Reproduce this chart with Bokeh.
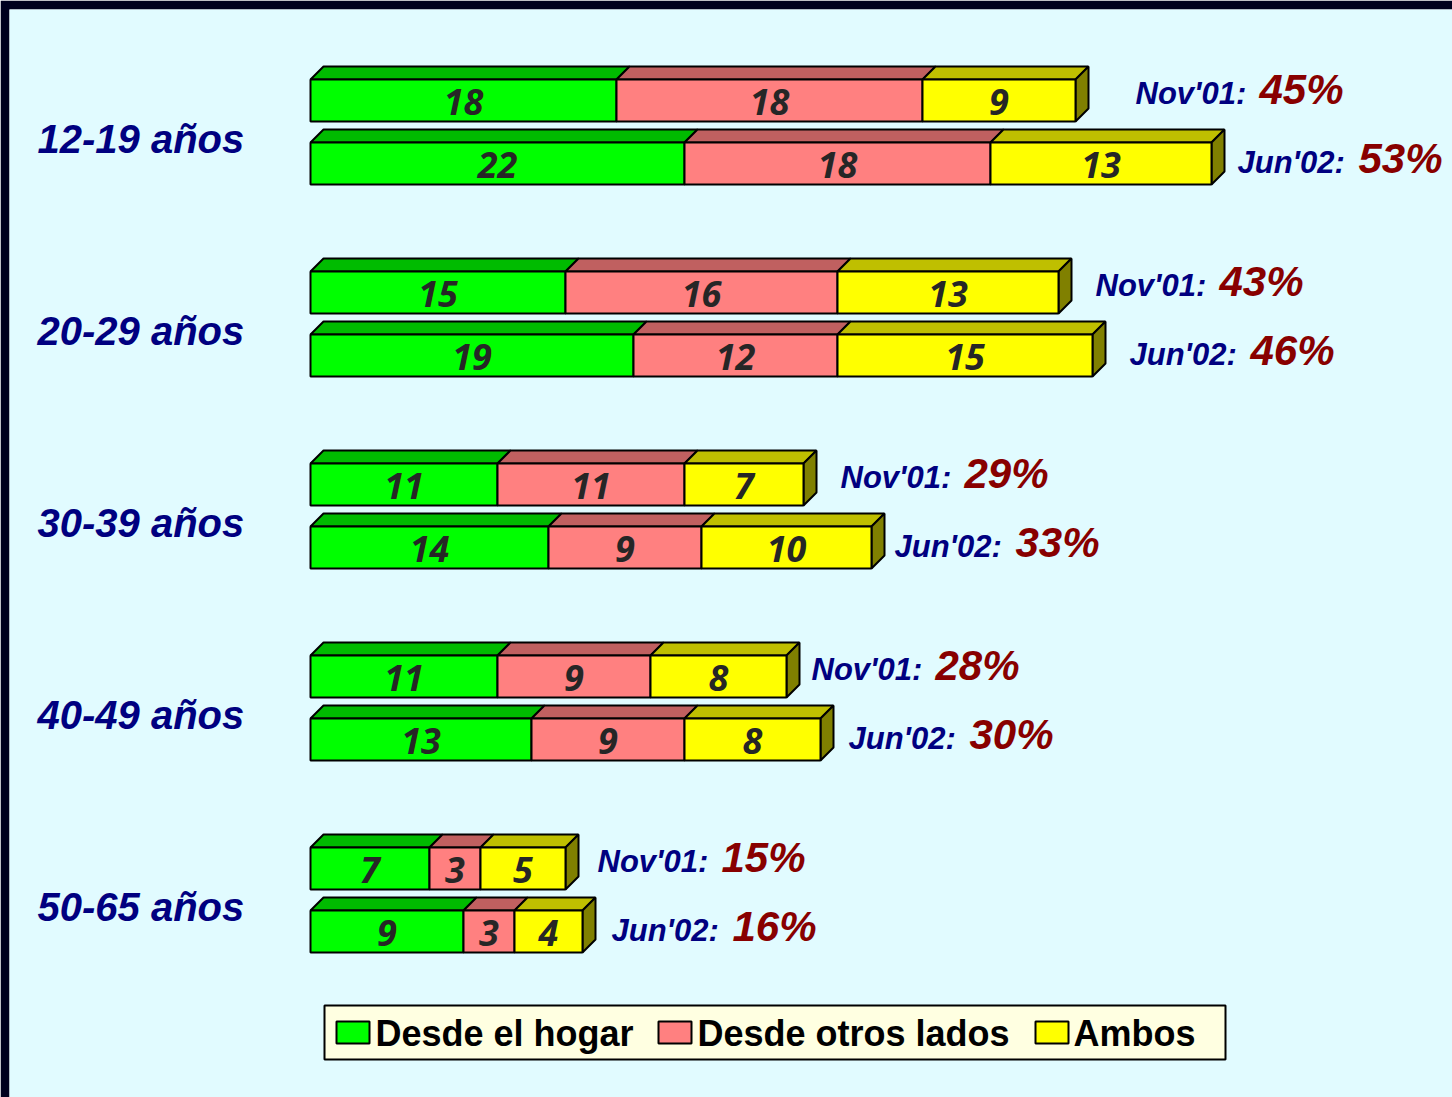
from bokeh.plotting import figure
from bokeh.models import Range1d, ColumnDataSource
from bokeh.embed import file_html
from bokeh.resources import INLINE
from bokeh.core.properties import value

# ---------------- data ----------------
groups = ["12-19 años", "20-29 años", "30-39 años", "40-49 años", "50-65 años"]
periods = ["Nov'01:", "Jun'02:"]
series = ["Desde el hogar", "Desde otros lados", "Ambos"]

hogar_nov = [18, 15, 11, 11, 7]
otros_nov = [18, 16, 11, 9, 3]
ambos_nov = [9, 13, 7, 8, 5]
total_nov = ["45%", "43%", "29%", "28%", "15%"]

hogar_jun = [22, 19, 14, 13, 9]
otros_jun = [18, 12, 9, 9, 3]
ambos_jun = [13, 15, 10, 8, 4]
total_jun = ["53%", "46%", "33%", "30%", "16%"]

# ---------------- layout / style ----------------
W, H = 1452, 1097
EDGE = 9           # dark frame at top/left
X0 = 310           # page x of 0 %
PX = 17.0          # pixels per percentage point
DEP = 13           # 3-D depth in px
D = DEP / PX
BAR_H = 42
GROUP_STEP = 192
FIRST_Y = 100
PAIR_STEP = 63

FRONT = ["#00FF00", "#FF8080", "#FFFF00"]
TOP = ["#00BB00", "#C06060", "#BFBF00"]
SIDE = "#808000"
NAVY = "#000080"
DRED = "#880000"
BG = "#E1FBFF"
DARK = "#00001E"

gap_nov = [47, 24, 24, 12, 19]
gap_jun = [13, 24, 10, 15, 16]
pct_off = [124, 121]
FONT = value("Liberation Sans")
VFONT = value("Noto Sans")


def xd(page_x):
    return (page_x - X0) / PX


p = figure(width=W, height=H, output_backend="svg", toolbar_location=None,
           x_range=Range1d(xd(EDGE), xd(W)),
           y_range=Range1d(H, EDGE),
           x_axis_location=None, y_axis_location=None,
           min_border=0, min_border_left=EDGE, min_border_right=0,
           min_border_top=EDGE, min_border_bottom=0)
p.grid.visible = False
p.outline_line_color = None
p.background_fill_color = BG
p.border_fill_color = DARK

data_sets = [
    (hogar_nov, otros_nov, ambos_nov, total_nov, gap_nov),
    (hogar_jun, otros_jun, ambos_jun, total_jun, gap_jun),
]

top_xs, top_ys, top_c = [], [], []
side_xs, side_ys = [], []
fronts = [dict(l=[], r=[], t=[], b=[]) for _ in range(3)]
val_x, val_y, val_t = [], [], []
per_x, per_y, per_t = [], [], []
pct_x, pct_y, pct_t, pct_o = [], [], [], []

for si, (h, o, a, tot, gaps) in enumerate(data_sets):
    for g in range(len(groups)):
        yc = FIRST_Y + GROUP_STEP * g + PAIR_STEP * si
        top = yc - BAR_H / 2
        bot = yc + BAR_H / 2
        cum = 0
        for k, v in enumerate([h[g], o[g], a[g]]):
            l, r = cum, cum + v
            cum = r
            fronts[k]["l"].append(l)
            fronts[k]["r"].append(r)
            fronts[k]["t"].append(top)
            fronts[k]["b"].append(bot)
            top_xs.append([l, r, r + D, l + D])
            top_ys.append([top, top, top - DEP, top - DEP])
            top_c.append(TOP[k])
            val_x.append((l + r) / 2)
            val_y.append(yc + 1)
            val_t.append(str(v))
        side_xs.append([cum, cum + D, cum + D, cum])
        side_ys.append([top, top - DEP, bot - DEP, bot])
        lx = cum + D + gaps[g] / PX
        per_x.append(lx)
        per_y.append(yc - (7 if si == 0 else 1))
        per_t.append(periods[si])
        pct_x.append(lx)
        pct_y.append(yc - (11 if si == 0 else 5))
        pct_t.append(tot[g])
        pct_o.append(pct_off[si])

# 3-D faces
p.patches(xs=top_xs, ys=top_ys, fill_color=top_c, line_color="black", line_width=2)
p.patches(xs=side_xs, ys=side_ys, fill_color=SIDE, line_color="black", line_width=2)
for k in range(3):
    src = ColumnDataSource(fronts[k])
    p.quad(left="l", right="r", top="t", bottom="b", source=src,
           fill_color=FRONT[k], line_color="black", line_width=2)

# values in bars
p.text(x=val_x, y=val_y, text=val_t, text_align="center", text_baseline="middle",
       text_font=VFONT, text_font_size="36px", text_font_style="bold italic",
       text_color="#262626")

# group labels
p.text(x=[xd(37)] * len(groups), y=[138 + GROUP_STEP * g for g in range(len(groups))],
       text=groups, text_align="left", text_baseline="middle",
       text_font=FONT, text_font_size="40px", text_font_style="bold italic",
       text_color=NAVY)

# period labels and totals
p.text(x=per_x, y=per_y, text=per_t, text_align="left", text_baseline="middle",
       text_font=FONT, text_font_size="31px", text_font_style="bold italic",
       text_color=NAVY)
p.text(x=pct_x, y=pct_y, text=pct_t, x_offset=pct_o, text_align="left",
       text_baseline="middle", text_font=FONT, text_font_size="42px",
       text_font_style="bold italic", text_color=DRED)

# legend
p.quad(left=[xd(324)], right=[xd(1225)], top=[1005], bottom=[1059],
       fill_color="#FFFFE1", line_color="black", line_width=2)
sw_left = [336, 658, 1035]
txt_left = [375, 697, 1073]
p.quad(left=[xd(v) for v in sw_left], right=[xd(v + 33) for v in sw_left],
       top=[1021] * 3, bottom=[1043] * 3, fill_color=FRONT,
       line_color="black", line_width=2)
p.text(x=[xd(v) for v in txt_left], y=[1033] * 3, text=series,
       text_align="left", text_baseline="middle", text_font=FONT,
       text_font_size="36px", text_font_style="bold", text_color="black")

html = file_html(p, INLINE, title="Acceso a Internet por edad")
open("out.html", "w").write(html)
